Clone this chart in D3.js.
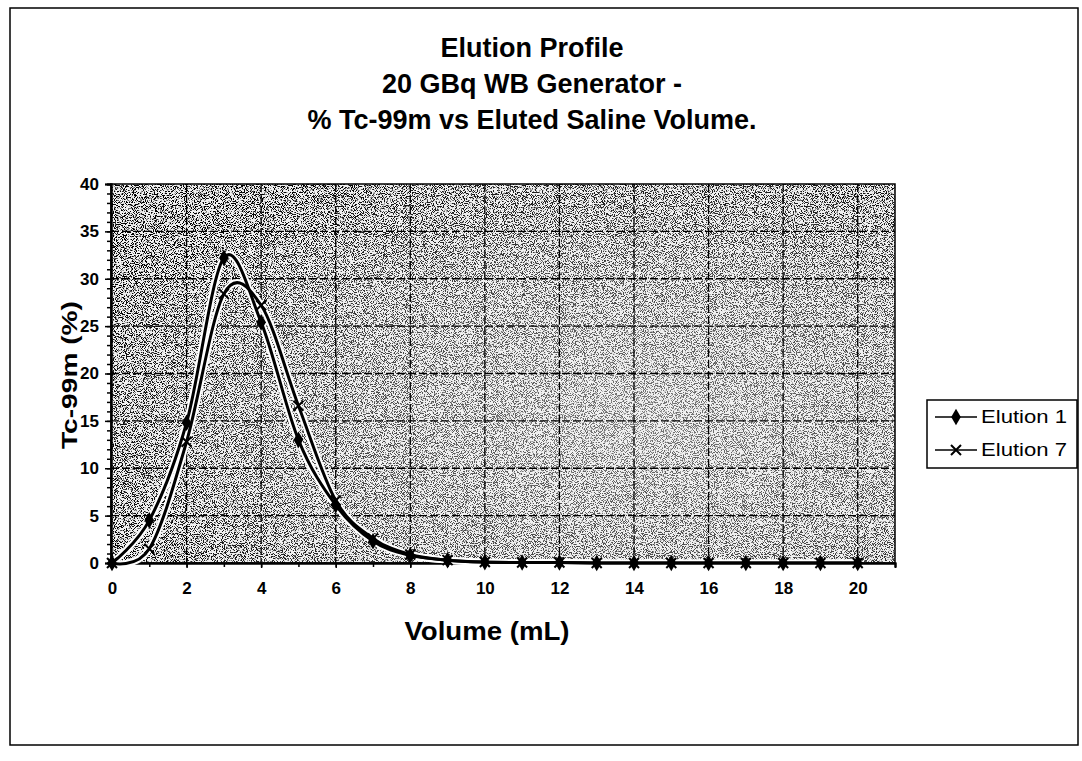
<!DOCTYPE html>
<html>
<head>
<meta charset="utf-8">
<script src="https://cdn.jsdelivr.net/npm/d3@7"></script>
<style>
body { margin: 0; background: #fff; }
text { font-family: "Liberation Sans", Arial, sans-serif; font-weight: bold; fill: #000; }
</style>
</head>
<body>
<div id="chart"></div>
<script>
// data
var volume = [0, 1, 2, 3, 4, 5, 6, 7, 8, 9, 10, 11, 12, 13, 14, 15, 16, 17, 18, 19, 20];
var elution1 = [0, 4.5, 14.8, 32.2, 25.4, 13.0, 6.1, 2.3, 0.8, 0.3, 0.1, 0.05, 0.05, 0, 0, 0, 0, 0, 0, 0, 0];
var elution7 = [0, 1.5, 12.8, 28.4, 27.2, 16.6, 6.6, 2.6, 0.9, 0.3, 0.1, 0.05, 0.05, 0, 0, 0, 0, 0, 0, 0, 0];
var seriesNames = ["Elution 1", "Elution 7"];
var xTicks = [0, 2, 4, 6, 8, 10, 12, 14, 16, 18, 20];
var yTicks = [0, 5, 10, 15, 20, 25, 30, 35, 40];
var titleLines = ["Elution Profile", "20 GBq WB Generator -", "% Tc-99m vs Eluted Saline Volume."];

var W = 1082, H = 761;
var plot = {left: 111, top: 184, right: 895, bottom: 563};

var svg = d3.select("#chart").append("svg")
    .attr("width", W)
    .attr("height", H);

var defs = svg.append("defs");

// speckled scan texture
var f = defs.append("filter").attr("id", "noise")
    .attr("x", 0).attr("y", 0).attr("width", "100%").attr("height", "100%");
f.append("feTurbulence")
    .attr("type", "fractalNoise")
    .attr("baseFrequency", 1.1)
    .attr("numOctaves", 1)
    .attr("seed", 7);
f.append("feColorMatrix")
    .attr("type", "matrix")
    .attr("values", "0 0 0 0 0  0 0 0 0 0  0 0 0 0 0  -12 0 0 0 6.0");

var rg = defs.append("radialGradient").attr("id", "fade")
    .attr("cx", "68%").attr("cy", "62%").attr("r", "75%");
rg.append("stop").attr("offset", "0%").attr("stop-color", "#808080");
rg.append("stop").attr("offset", "55%").attr("stop-color", "#bbb");
rg.append("stop").attr("offset", "100%").attr("stop-color", "#fff");

var mask = defs.append("mask").attr("id", "fadeMask");
mask.append("rect")
    .attr("x", plot.left).attr("y", plot.top)
    .attr("width", plot.right - plot.left).attr("height", plot.bottom - plot.top)
    .attr("fill", "url(#fade)");

// outer frame
svg.append("rect")
    .attr("x", 10).attr("y", 8)
    .attr("width", 1068).attr("height", 737)
    .attr("fill", "none")
    .attr("stroke", "#000")
    .attr("stroke-width", 1.5);

// title
svg.append("g").selectAll("text")
    .data(titleLines)
    .enter().append("text")
    .attr("x", 532)
    .attr("y", function(d, i) { return 57 + i * 36; })
    .attr("text-anchor", "middle")
    .style("font-size", "27px")
    .text(function(d) { return d; });

var x = d3.scaleLinear().domain([0, 21]).range([plot.left + 1, plot.right]);
var y = d3.scaleLinear().domain([0, 40]).range([plot.bottom, plot.top]);

// plot background
svg.append("rect")
    .attr("x", plot.left).attr("y", plot.top)
    .attr("width", plot.right - plot.left).attr("height", plot.bottom - plot.top)
    .attr("fill", "#f0f0f0");
svg.append("rect")
    .attr("x", plot.left).attr("y", plot.top)
    .attr("width", plot.right - plot.left).attr("height", plot.bottom - plot.top)
    .attr("filter", "url(#noise)")
    .attr("mask", "url(#fadeMask)");

// dashed grid
var grid = svg.append("g").attr("stroke", "#000").attr("stroke-width", 1.3)
    .attr("stroke-dasharray", "8,3");
grid.selectAll("line.h")
    .data(yTicks.filter(function(d) { return d > 0 && d < 40; }))
    .enter().append("line")
    .attr("x1", plot.left).attr("x2", plot.right)
    .attr("y1", function(d) { return y(d); })
    .attr("y2", function(d) { return y(d); });
grid.selectAll("line.v")
    .data(xTicks.filter(function(d) { return d > 0; }))
    .enter().append("line")
    .attr("y1", plot.top).attr("y2", plot.bottom)
    .attr("x1", function(d) { return x(d); })
    .attr("x2", function(d) { return x(d); });

svg.append("rect")
    .attr("x", plot.left).attr("y", plot.top)
    .attr("width", plot.right - plot.left).attr("height", plot.bottom - plot.top)
    .attr("fill", "none")
    .attr("stroke", "#000")
    .attr("stroke-width", 1.5);

// axes
svg.append("g")
    .attr("transform", "translate(" + plot.left + ",0)")
    .call(d3.axisLeft(y).tickValues(yTicks).tickSize(6).tickPadding(6));
svg.append("g")
    .attr("transform", "translate(" + plot.left + ",0)")
    .call(d3.axisLeft(y).tickValues(d3.range(0, 41)).tickSize(4).tickFormat(""));
svg.append("g")
    .attr("transform", "translate(0," + plot.bottom + ")")
    .call(d3.axisBottom(x).tickValues(xTicks).tickSize(5).tickPadding(14));
svg.append("g")
    .attr("transform", "translate(0," + plot.bottom + ")")
    .call(d3.axisBottom(x).tickValues(volume).tickSize(4).tickFormat(""));

svg.selectAll(".domain").attr("stroke", "#000").attr("stroke-width", 2);
svg.selectAll(".tick line").attr("stroke", "#000").attr("stroke-width", 1.5);
svg.selectAll(".tick text").style("font-size", "17px")
    .style("font-family", "'Liberation Sans', Arial, sans-serif")
    .style("font-weight", "bold");

svg.append("text")
    .attr("x", 487).attr("y", 640)
    .attr("text-anchor", "middle")
    .style("font-size", "25px")
    .attr("textLength", 165)
    .attr("lengthAdjust", "spacingAndGlyphs")
    .text("Volume (mL)");
svg.append("text")
    .attr("transform", "translate(77,375)rotate(-90)")
    .attr("text-anchor", "middle")
    .style("font-size", "22px")
    .attr("textLength", 148)
    .attr("lengthAdjust", "spacingAndGlyphs")
    .text("Tc-99m (%)");

// lines
var line = d3.line()
    .x(function(d) { return x(d[0]); })
    .y(function(d) { return y(d[1]); })
    .curve(d3.curveCatmullRom.alpha(0));

var s1 = volume.map(function(v, i) { return [v, elution1[i]]; });
var s7 = volume.map(function(v, i) { return [v, elution7[i]]; });

[s7, s1].forEach(function(s) {
    svg.append("path").datum(s)
        .attr("d", line)
        .attr("fill", "none")
        .attr("stroke", "#fff")
        .attr("stroke-width", 7);
});
[s7, s1].forEach(function(s) {
    svg.append("path").datum(s)
        .attr("d", line)
        .attr("fill", "none")
        .attr("stroke", "#000")
        .attr("stroke-width", 3);
});

var diamond = d3.symbol().type(d3.symbolDiamond).size(80);
function cross(g) {
    g.append("path")
        .attr("d", "M-5,-5L5,5M-5,5L5,-5")
        .attr("stroke", "#000")
        .attr("stroke-width", 2)
        .attr("fill", "none");
}

svg.append("g").selectAll("g")
    .data(s7)
    .enter().append("g")
    .attr("transform", function(d) { return "translate(" + x(d[0]) + "," + y(d[1]) + ")"; })
    .each(function() { cross(d3.select(this)); });

svg.append("g").selectAll("path")
    .data(s1)
    .enter().append("path")
    .attr("transform", function(d) { return "translate(" + x(d[0]) + "," + y(d[1]) + ")"; })
    .attr("d", diamond)
    .attr("fill", "#000");

// legend
var lg = svg.append("g").attr("transform", "translate(927,400)");
lg.append("rect")
    .attr("width", 150).attr("height", 68)
    .attr("fill", "#fff")
    .attr("stroke", "#000")
    .attr("stroke-width", 1.5);
seriesNames.forEach(function(name, i) {
    var yy = 17 + i * 33;
    lg.append("line")
        .attr("x1", 8).attr("x2", 50)
        .attr("y1", yy).attr("y2", yy)
        .attr("stroke", "#000").attr("stroke-width", 1.5);
    var m = lg.append("g").attr("transform", "translate(29," + yy + ")");
    if (i === 0) {
        m.append("path").attr("d", diamond).attr("fill", "#000");
    } else {
        cross(m);
    }
    lg.append("text")
        .attr("x", 54).attr("y", yy + 6)
        .style("font-size", "18px")
        .style("font-weight", "normal")
        .attr("textLength", 86)
        .attr("lengthAdjust", "spacingAndGlyphs")
        .text(name);
});
</script>
</body>
</html>
